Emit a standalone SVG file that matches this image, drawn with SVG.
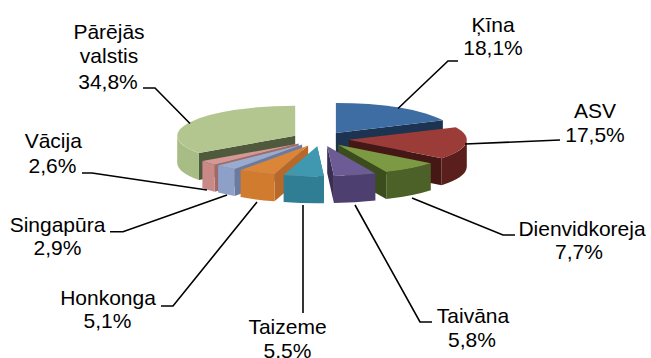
<svg xmlns="http://www.w3.org/2000/svg" width="651" height="358" viewBox="0 0 651 358">
<style>
text{font-family:"Liberation Sans",Arial,sans-serif;font-size:21px;fill:#000;text-anchor:middle}
.lead{fill:none;stroke:#000;stroke-width:1.6}
</style>
<rect width="651" height="358" fill="#fff"/>
<g id="kina">
<path d="M335.85,132.9 L442.9,120.3 L442.9,147.3 L335.85,159.9 Z" fill="#1D3352"/>
<path d="M335.85,132.9 L335.85,102.9 A118,30 0 0 1 442.9,120.3 Z" fill="#3E6DA3"/>
</g>
<g id="parejas">
<path d="M295.2,135.7 L198.9,153 L198.9,180 L295.2,162.7 Z" fill="#4E5A3B"/>
<path d="M198.9,153 A118,30 0 0 1 177.2,135.7 L177.2,162.7 A118,30 0 0 0 198.9,180 Z" fill="#A8BC86"/>
<path d="M295.2,135.7 L198.9,153 A118,30 0 0 1 295.2,105.7 Z" fill="#B3C68F"/>
</g>
<g id="asv">
<path d="M348.8,139.8 L441.6,158.3 L441.6,185.3 L348.8,166.8 Z" fill="#461815"/>
<path d="M466.8,139.8 A118,30 0 0 1 441.6,158.3 L441.6,185.3 A118,30 0 0 0 466.8,166.8 Z" fill="#5A1F1D"/>
<path d="M348.8,139.8 L455.9,127.2 A118,30 0 0 1 441.6,158.3 Z" fill="#9C3C39"/>
</g>
<g id="vacija">
<path d="M298.7,143.6 L214.7,164.7 L214.7,191.7 L298.7,170.6 Z" fill="#A06A68"/>
<path d="M214.7,164.7 A118,30 0 0 1 202.4,160.9 L202.4,187.9 A118,30 0 0 0 214.7,191.7 Z" fill="#C98986"/>
<path d="M298.7,143.6 L214.7,164.7 A118,30 0 0 1 202.4,160.9 Z" fill="#D69896"/>
</g>
<g id="singapura">
<path d="M302.1,144.5 L234.6,169.1 L234.6,196.1 L302.1,171.5 Z" fill="#6A7BA0"/>
<path d="M234.6,169.1 A118,30 0 0 1 218.1,165.6 L218.1,192.6 A118,30 0 0 0 234.6,196.1 Z" fill="#8DA0C8"/>
<path d="M302.1,144.5 L234.6,169.1 A118,30 0 0 1 218.1,165.6 Z" fill="#98ACD0"/>
</g>
<g id="dienvidkoreja">
<path d="M338,144.7 L386.2,172.1 L386.2,199.1 L338,171.7 Z" fill="#3B4D1D"/>
<path d="M430.8,163.2 A118,30 0 0 1 386.2,172.1 L386.2,199.1 A118,30 0 0 0 430.8,190.2 Z" fill="#4B6128"/>
<path d="M338,144.7 L430.8,163.2 A118,30 0 0 1 386.2,172.1 Z" fill="#7B9A43"/>
</g>
<g id="honkonga">
<path d="M308.1,145.5 L274.5,174.3 L274.5,201.3 L308.1,172.5 Z" fill="#B8692A"/>
<path d="M274.5,174.3 A118,30 0 0 1 240.6,170.1 L240.6,197.1 A118,30 0 0 0 274.5,201.3 Z" fill="#D07B2E"/>
<path d="M308.1,145.5 L274.5,174.3 A118,30 0 0 1 240.6,170.1 Z" fill="#DA8537"/>
</g>
<g id="taivana">
<path d="M327.2,146 L333.9,176 L333.9,203 L327.2,173 Z" fill="#3A2E55"/>
<path d="M375.4,173.4 A118,30 0 0 1 333.9,176 L333.9,203 A118,30 0 0 0 375.4,200.4 Z" fill="#4D3F6F"/>
<path d="M327.2,146 L375.4,173.4 A118,30 0 0 1 333.9,176 Z" fill="#6C5B95"/>
</g>
<g id="taizeme">
<path d="M317.2,146.2 L323.9,176.2 L323.9,203.2 L317.2,173.2 Z" fill="#2A6E80"/>
<path d="M323.9,176.2 A118,30 0 0 1 283.6,175 L283.6,202 A118,30 0 0 0 323.9,203.2 Z" fill="#2F7E93"/>
<path d="M317.2,146.2 L323.9,176.2 A118,30 0 0 1 283.6,175 Z" fill="#3F98AF"/>
</g>
<g id="connectors">
<polyline class="lead" points="458,61 448,61 398,108.5"/>
<polyline class="lead" points="465,144 560,140"/>
<polyline class="lead" points="412,198 503,235 515,235"/>
<polyline class="lead" points="355,205 420,322 432,322"/>
<polyline class="lead" points="303,205 303,313"/>
<polyline class="lead" points="257,202 173,306 161,306"/>
<polyline class="lead" points="227,195 123,231.7 110,231.7"/>
<polyline class="lead" points="82,173 92,173 207,190"/>
<polyline class="lead" points="143,88 155,88 190,123.5"/>
</g>
<g id="labels">
<text x="493" y="31.7">Ķīna</text><text x="493" y="55">18,1%</text>
<text x="595" y="118.3">ASV</text><text x="595" y="141.7">17,5%</text>
<text x="582" y="236">Dienvidkoreja</text><text x="579" y="259">7,7%</text>
<text x="473" y="323">Taivāna</text><text x="472" y="346.5">5,8%</text>
<text x="287.5" y="334">Taizeme</text><text x="287.5" y="357.5">5,5%</text>
<text x="108" y="304.5">Honkonga</text><text x="107.5" y="328.3">5,1%</text>
<text x="57.5" y="231.5">Singapūra</text><text x="57.5" y="255">2,9%</text>
<text x="53.3" y="148.3">Vācija</text><text x="52.5" y="172.5">2,6%</text>
<text x="109" y="39">Pārējās</text><text x="109" y="63.3">valstis</text><text x="108" y="88.5">34,8%</text>
</g>
</svg>
